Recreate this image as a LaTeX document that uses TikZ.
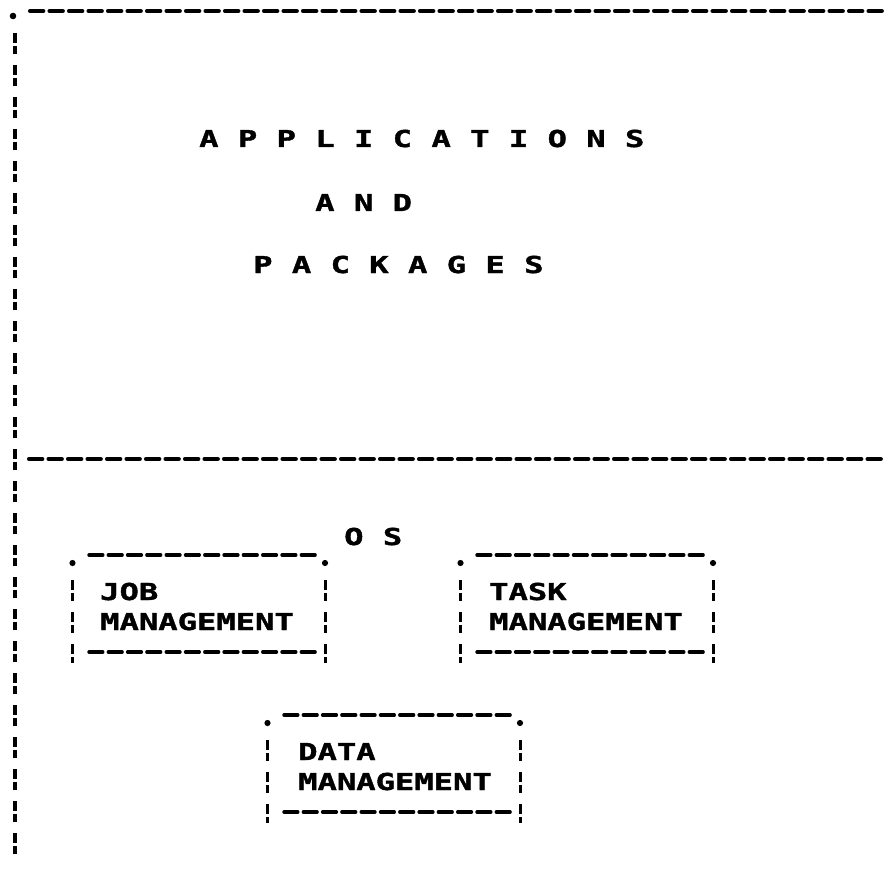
\documentclass[tikz,border=0pt]{standalone}
\usepackage{fontspec}
\newfontfamily\dotfont[FakeStretch=1.38, FakeBold=1.6]{DejaVu Sans Mono}

\tikzset{
  % printed "-" rows
  dashrule/.style={line width=3.9pt, line cap=round, dash pattern=on 13.5pt off 6pt},
  boxrule/.style={line width=3.4pt, line cap=round, dash pattern=on 13.8pt off 5.5pt},
  % printed ":" columns
  colonrule/.style={line width=4pt, dash pattern=on 10pt off 3pt on 8pt off 11pt},
  boxcolon/.style={line width=3.6pt, dash pattern=on 10pt off 3pt on 8pt off 11pt},
  cornerdot/.style={fill=black},
  printed/.style={font=\dotfont\bfseries\fontsize{23.3}{28}\selectfont,
    anchor=base west, inner sep=0pt, text=black},
  % a small framed box built from printed characters
  charbox/.pic={
    \fill[cornerdot] (0,8) circle (3.1pt);
    \fill[cornerdot] (252.5,8) circle (3.1pt);
    \draw[boxrule] (16.5,0) -- (243.5,0);
    \draw[boxrule] (16.5,97) -- (243.5,97);
    \draw[boxcolon] (0,25) -- (0,108);
    \draw[boxcolon] (253,25) -- (253,108);
  }
}

\begin{document}
\begin{tikzpicture}[x=1pt, y=-1pt]
  \useasboundingbox (0,0) rectangle (885,874);

  % outer frame: top rule, left column and the rule above the OS part
  \fill[cornerdot] (13,16) circle (3.3pt);
  \draw[dashrule] (29.9,11) -- (882,11);
  \draw[colonrule] (15,33) -- (15,857);
  \draw[dashrule] (28.9,459) -- (882,459);

  % upper part
  \node[printed] (appl) at (199,147) {A P P L I C A T I O N S};
  \node[printed] (and)  at (315,211) {A N D};
  \node[printed] (pack) at (253,273) {P A C K A G E S};

  % lower part
  \node[printed] (os) at (344,545) {O S};

  \pic at (72.5,555) {charbox};
  \node[printed] (job1) at (100,600) {JOB};
  \node[printed] (job2) at (100,630) {MANAGEMENT};

  \pic at (460.5,555) {charbox};
  \node[printed] (task1) at (489,600) {TASK};
  \node[printed] (task2) at (489,630) {MANAGEMENT};

  \pic at (267.5,715) {charbox};
  \node[printed] (data1) at (298,760) {DATA};
  \node[printed] (data2) at (298,790) {MANAGEMENT};
\end{tikzpicture}
\end{document}
